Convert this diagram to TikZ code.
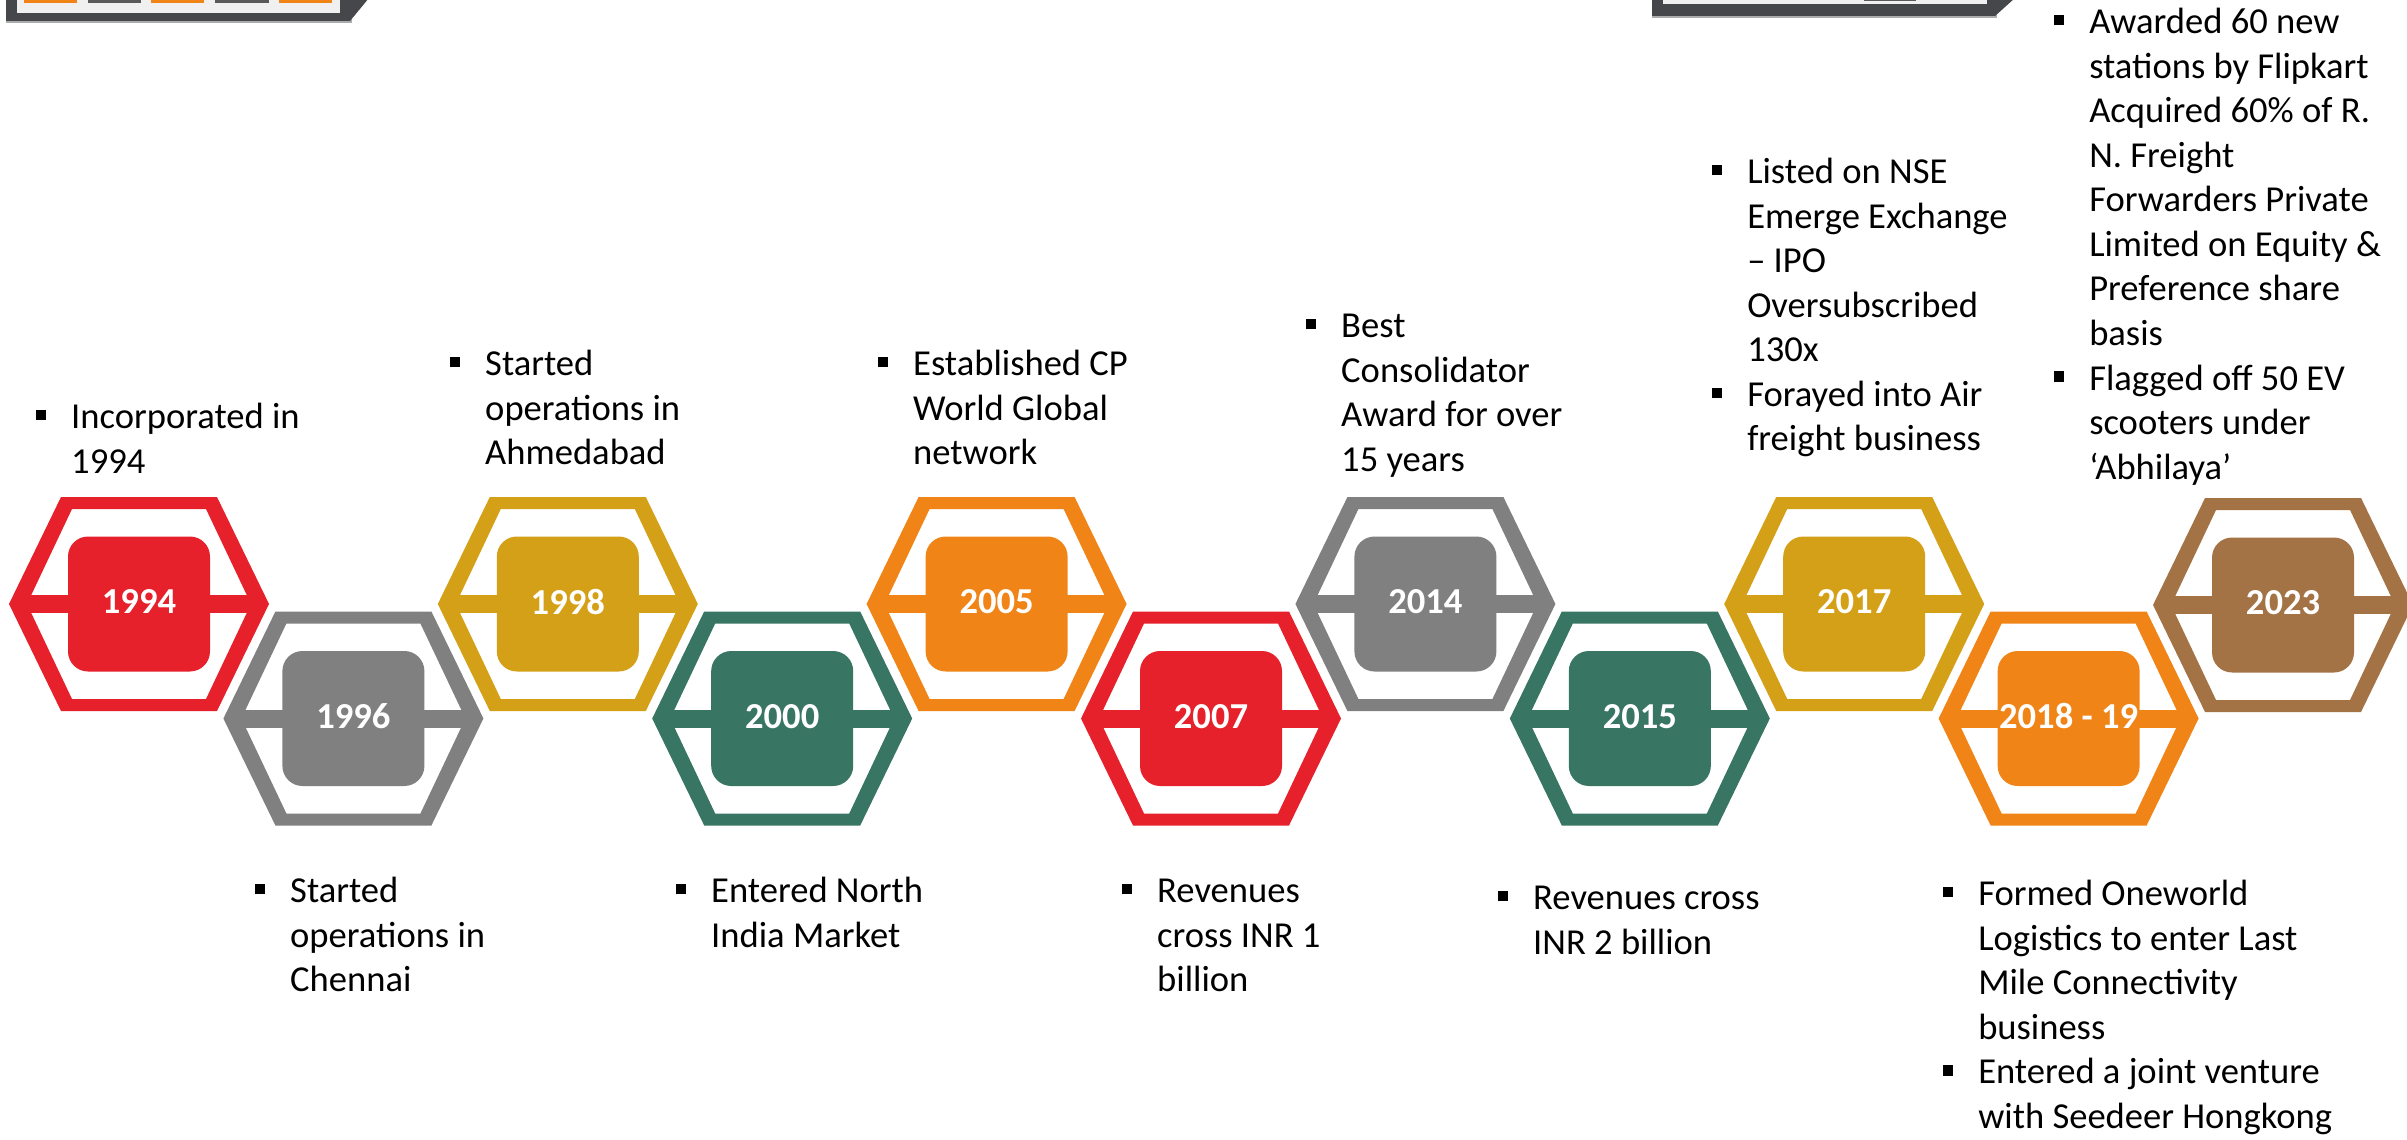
\documentclass[tikz,border=0pt]{standalone}
\usepackage{fontspec}
\setmainfont{Carlito}

\definecolor{tlred}{HTML}{E6212B}
\definecolor{tlgray}{HTML}{808080}
\definecolor{tlgold}{HTML}{D4A017}
\definecolor{tlgreen}{HTML}{387563}
\definecolor{tlorange}{HTML}{F08416}
\definecolor{tlbrown}{HTML}{A37245}
\definecolor{framedark}{HTML}{45474A}
\definecolor{framepanel}{HTML}{F0F0F0}
\definecolor{barslate}{HTML}{595959}

% Bullet square and hanging indent for the event texts.
\newcommand{\sqb}{\makebox[10.1pt][l]{\rule[2.4pt]{2.9pt}{2.9pt}}}
\newcommand{\hind}{\hspace*{10.1pt}}

% Hexagon with its year: name, x, y, colour, year.
\newcommand{\yearhex}[5]{%
  \fill[#4, even odd rule]
    (#2-130,#3) -- (#2-78,#3-107) -- (#2+78,#3-107) -- (#2+130,#3) -- (#2+78,#3+107) -- (#2-78,#3+107) -- cycle
    (#2-112,#3) -- (#2-67,#3-95) -- (#2+67,#3-95) -- (#2+112,#3) -- (#2+67,#3+95) -- (#2-67,#3+95) -- cycle;
  \fill[#4] (#2-115,#3-9) rectangle (#2+115,#3+9);
  \fill[#4, rounded corners=5.7pt] (#2-71,#3-67.5) rectangle (#2+71,#3+67.5);
  \node[yearlabel] (#1) at (#2,#3-2) {#5};
}

\begin{document}
\begin{tikzpicture}[
        x=0.01cm, y=-0.01cm,
        yearlabel/.style={text=white, inner sep=0pt, font=\bfseries\fontsize{10.4pt}{12pt}\selectfont},
        event/.style={anchor=north west, inner sep=0pt, align=left, font=\fontsize{10.4pt}{12.66pt}\selectfont}
    ]
        \useasboundingbox (0,0) rectangle (2407,1140);

        % Frame pieces cut by the top edge.
        \fill[framedark!45] (6,-2) rectangle (352,23);
        \fill[framedark] (6,-2) -- (6,21) -- (350,21) -- (369,-2) -- cycle;
        \fill[framepanel] (17,-2) rectangle (340,13);
        \fill[tlorange] (24,-2) rectangle (77,3);
        \fill[barslate] (88,-2) rectangle (141,3);
        \fill[tlorange] (151,-2) rectangle (204,3);
        \fill[barslate] (215,-2) rectangle (269,3);
        \fill[tlorange] (279,-2) rectangle (332,3);
        \fill[framedark!45] (1652,-2) rectangle (1997,18);
        \fill[framedark] (1652,-2) -- (1652,16) -- (1995,16) -- (2015,-2) -- cycle;
        \fill[framepanel] (1663,-2) rectangle (1987,4);
        \fill[barslate] (1864,-2) rectangle (1916,1);

        % Upper row of years.
        \yearhex{y1994}{139}{604}{tlred}{1994}
        \yearhex{y1998}{567.8}{604}{tlgold}{1998}
        \yearhex{y2005}{996.6}{604}{tlorange}{2005}
        \yearhex{y2014}{1425.4}{604}{tlgray}{2014}
        \yearhex{y2017}{1854.2}{604}{tlgold}{2017}
        \yearhex{y2023}{2283}{605}{tlbrown}{2023}

        % Lower row of years.
        \yearhex{y1996}{353.4}{718.5}{tlgray}{1996}
        \yearhex{y2000}{782.2}{718.5}{tlgreen}{2000}
        \yearhex{y2007}{1211}{718.5}{tlred}{2007}
        \yearhex{y2015}{1639.8}{718.5}{tlgreen}{2015}
        \yearhex{y2018}{2068.6}{718.5}{tlorange}{2018 - 19}

        % Events above the upper row.
        \node[event] (ev1994) at (35,397) {\strut\sqb Incorporated in\\ \hind 1994};
        \node[event] (ev1998) at (449,344) {\strut\sqb Started\\ \hind operations in\\ \hind Ahmedabad};
        \node[event] (ev2005) at (877,344) {\strut\sqb Established CP\\ \hind World Global\\ \hind network};
        \node[event] (ev2014) at (1305,306) {\strut\sqb Best\\ \hind Consolidator\\ \hind Award for over\\ \hind 15 years};
        \node[event] (ev2017) at (1711,152) {\strut\sqb Listed on NSE\\ \hind Emerge Exchange\\ \hind – IPO\\ \hind Oversubscribed\\ \hind 130x\\
            \sqb Forayed into Air\\ \hind freight business};
        \node[event] (ev2023) at (2053,2) {\strut\sqb Awarded 60 new\\ \hind stations by Flipkart\\ \hind Acquired 60\% of R.\\ \hind N. Freight\\ \hind Forwarders Private\\ \hind Limited on Equity \&\\ \hind Preference share\\ \hind basis\\
            \sqb Flagged off 50 EV\\ \hind scooters under\\ \hind ‘Abhilaya’};

        % Events below the lower row.
        \node[event] (ev1996) at (254,871) {\strut\sqb Started\\ \hind operations in\\ \hind Chennai};
        \node[event] (ev2000) at (675,871) {\strut\sqb Entered North\\ \hind India Market};
        \node[event] (ev2007) at (1121,871) {\strut\sqb Revenues\\ \hind cross INR 1\\ \hind billion};
        \node[event] (ev2015) at (1497,878) {\strut\sqb Revenues cross\\ \hind INR 2 billion};
        \node[event] (ev2018) at (1942,874) {\strut\sqb Formed Oneworld\\ \hind Logistics to enter Last\\ \hind Mile Connectivity\\ \hind business\\
            \sqb Entered a joint venture\\ \hind with Seedeer Hongkong};
    \end{tikzpicture}
\end{document}
